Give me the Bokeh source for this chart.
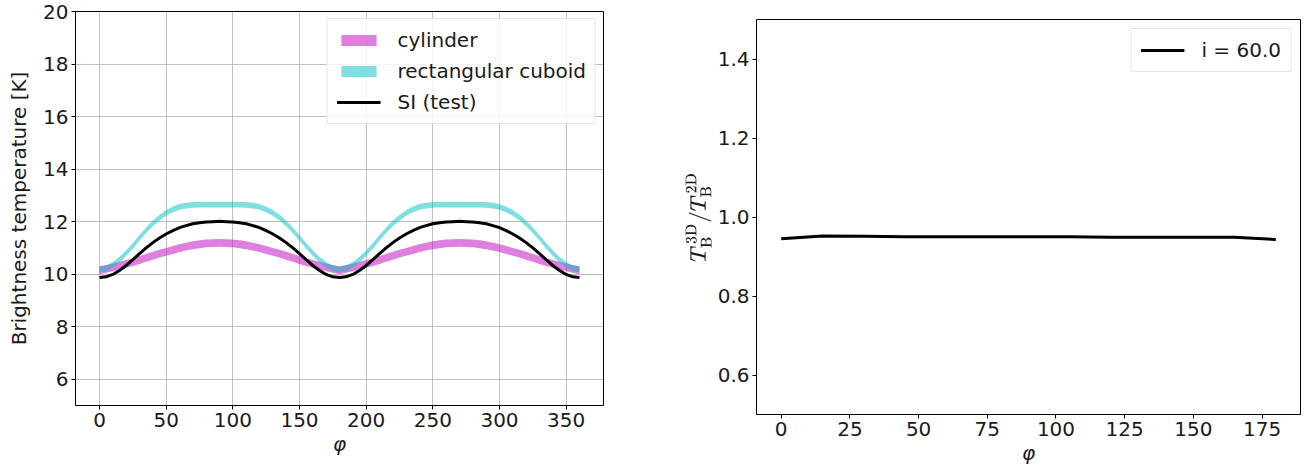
from bokeh.plotting import figure
from bokeh.layouts import row, column
from bokeh.models import Range1d, FixedTicker, Legend, LegendItem, Spacer, PrintfTickFormatter
from bokeh.embed import file_html
from bokeh.resources import INLINE

# ---------------- data ----------------
phi = list(range(0, 365, 5))

cyl_lo = [10.00, 10.05, 10.11, 10.17, 10.24, 10.31, 10.39, 10.47, 10.55, 10.63, 10.70, 10.77, 10.84, 10.90, 10.95, 10.99, 11.02, 11.03, 11.04,
          11.03, 11.02, 10.99, 10.95, 10.90, 10.84, 10.77, 10.70, 10.63, 10.55, 10.47, 10.39, 10.31, 10.24, 10.17, 10.11, 10.05, 10.00,
          10.05, 10.11, 10.17, 10.24, 10.31, 10.39, 10.47, 10.55, 10.63, 10.70, 10.77, 10.84, 10.90, 10.95, 10.99, 11.02, 11.03, 11.04,
          11.03, 11.02, 10.99, 10.95, 10.90, 10.84, 10.77, 10.70, 10.63, 10.55, 10.47, 10.39, 10.31, 10.24, 10.17, 10.11, 10.05, 10.00]
cyl_hi = [10.30, 10.35, 10.41, 10.47, 10.54, 10.61, 10.69, 10.77, 10.85, 10.93, 11.00, 11.07, 11.14, 11.20, 11.25, 11.29, 11.32, 11.33, 11.34,
          11.33, 11.32, 11.29, 11.25, 11.20, 11.14, 11.07, 11.00, 10.93, 10.85, 10.77, 10.69, 10.61, 10.54, 10.47, 10.41, 10.35, 10.30,
          10.35, 10.41, 10.47, 10.54, 10.61, 10.69, 10.77, 10.85, 10.93, 11.00, 11.07, 11.14, 11.20, 11.25, 11.29, 11.32, 11.33, 11.34,
          11.33, 11.32, 11.29, 11.25, 11.20, 11.14, 11.07, 11.00, 10.93, 10.85, 10.77, 10.69, 10.61, 10.54, 10.47, 10.41, 10.35, 10.30]
cub_lo = [10.06, 10.11, 10.24, 10.44, 10.69, 10.97, 11.27, 11.56, 11.82, 12.04, 12.22, 12.36, 12.45, 12.50, 12.53, 12.54, 12.54, 12.54, 12.54,
          12.54, 12.54, 12.54, 12.53, 12.50, 12.45, 12.36, 12.22, 12.04, 11.82, 11.56, 11.27, 10.97, 10.69, 10.44, 10.24, 10.11, 10.06,
          10.11, 10.24, 10.44, 10.69, 10.97, 11.27, 11.56, 11.82, 12.04, 12.22, 12.36, 12.45, 12.50, 12.53, 12.54, 12.54, 12.54, 12.54,
          12.54, 12.54, 12.54, 12.53, 12.50, 12.45, 12.36, 12.22, 12.04, 11.82, 11.56, 11.27, 10.97, 10.69, 10.44, 10.24, 10.11, 10.06]
cub_hi = [10.28, 10.33, 10.46, 10.66, 10.91, 11.19, 11.49, 11.78, 12.04, 12.26, 12.44, 12.58, 12.67, 12.72, 12.75, 12.76, 12.76, 12.76, 12.76,
          12.76, 12.76, 12.76, 12.75, 12.72, 12.67, 12.58, 12.44, 12.26, 12.04, 11.78, 11.49, 11.19, 10.91, 10.66, 10.46, 10.33, 10.28,
          10.33, 10.46, 10.66, 10.91, 11.19, 11.49, 11.78, 12.04, 12.26, 12.44, 12.58, 12.67, 12.72, 12.75, 12.76, 12.76, 12.76, 12.76,
          12.76, 12.76, 12.76, 12.75, 12.72, 12.67, 12.58, 12.44, 12.26, 12.04, 11.78, 11.49, 11.19, 10.91, 10.66, 10.46, 10.33, 10.28]
si_test = [9.87, 9.90, 9.99, 10.14, 10.33, 10.55, 10.78, 11.00, 11.20, 11.38, 11.53, 11.66, 11.77, 11.85, 11.92, 11.96, 11.99, 12.00, 12.01,
           12.00, 11.99, 11.96, 11.92, 11.85, 11.77, 11.66, 11.53, 11.38, 11.20, 11.00, 10.78, 10.55, 10.33, 10.14, 9.99, 9.90, 9.87,
           9.90, 9.99, 10.14, 10.33, 10.55, 10.78, 11.00, 11.20, 11.38, 11.53, 11.66, 11.77, 11.85, 11.92, 11.96, 11.99, 12.00, 12.01,
           12.00, 11.99, 11.96, 11.92, 11.85, 11.77, 11.66, 11.53, 11.38, 11.20, 11.00, 10.78, 10.55, 10.33, 10.14, 9.99, 9.90, 9.87]

phi2 = [0, 15, 30, 45, 60, 75, 90, 105, 120, 135, 150, 165, 180]
ratio = [0.945, 0.952, 0.951, 0.950, 0.950, 0.950, 0.950, 0.950, 0.949, 0.949, 0.949, 0.949, 0.943]

left_xticks = [0, 50, 100, 150, 200, 250, 300, 350]
left_yticks = [6, 8, 10, 12, 14, 16, 18, 20]
right_xticks = [0, 25, 50, 75, 100, 125, 150, 175]
right_yticks = [0.6, 0.8, 1.0, 1.2, 1.4]

FONT = "DejaVu Sans"
FS = "20px"
TXT = "#1a1a1a"


def style(p):
    p.outline_line_color = "black"
    p.outline_line_width = 1
    p.background_fill_color = "white"
    p.border_fill_color = "white"
    for ax in p.axis:
        ax.axis_line_color = None
        ax.major_tick_line_color = "black"
        ax.major_tick_in = 0
        ax.major_tick_out = 4
        ax.minor_tick_line_color = None
        ax.major_label_text_font = FONT
        ax.major_label_text_font_size = FS
        ax.major_label_text_color = TXT
        ax.major_label_standoff = 3
        ax.axis_label_text_font = FONT
        ax.axis_label_text_font_size = FS
        ax.axis_label_text_color = TXT


def style_legend(leg, margin):
    leg.label_text_font = FONT
    leg.label_text_font_size = FS
    leg.label_text_color = TXT
    leg.glyph_width = 44
    leg.glyph_height = 14
    leg.label_height = 20
    leg.spacing = 7
    leg.padding = 9
    leg.margin = margin
    leg.label_standoff = 17
    leg.border_line_color = "#cccccc"
    leg.border_line_width = 1
    leg.background_fill_alpha = 0.8


# ---------------- left panel ----------------
p1 = figure(frame_width=528, frame_height=394, output_backend="svg", toolbar_location=None,
            x_range=Range1d(-18, 378), y_range=Range1d(5, 20),
            min_border_left=75, min_border_right=77, min_border_top=11, min_border_bottom=60)
style(p1)
p1.xaxis.ticker = FixedTicker(ticks=left_xticks)
p1.yaxis.ticker = FixedTicker(ticks=left_yticks)
p1.xgrid.ticker = FixedTicker(ticks=left_xticks)
p1.ygrid.ticker = FixedTicker(ticks=left_yticks)
p1.grid.grid_line_color = "#b0b0b0"
p1.grid.grid_line_width = 0.8
p1.xaxis.axis_label = "φ"
p1.xaxis.axis_label_text_font_style = "italic"
p1.xaxis.axis_label_standoff = 2
p1.yaxis.axis_label = "Brightness temperature [K]"
p1.yaxis.axis_label_text_font_style = "normal"
p1.yaxis.axis_label_standoff = 9

r_cyl = p1.varea(x=phi, y1=cyl_lo, y2=cyl_hi, fill_color="#bf00bf", fill_alpha=0.5)
r_cub = p1.varea(x=phi, y1=cub_lo, y2=cub_hi, fill_color="#00bfbf", fill_alpha=0.5)
r_si = p1.line(x=phi, y=si_test, line_color="black", line_width=3)

leg1 = Legend(items=[LegendItem(label="cylinder", renderers=[r_cyl]),
                     LegendItem(label="rectangular cuboid", renderers=[r_cub]),
                     LegendItem(label="SI (test)", renderers=[r_si])],
              location="top_right")
style_legend(leg1, 7)
p1.add_layout(leg1)

# ---------------- right panel ----------------
p2 = figure(frame_width=544, frame_height=395, output_backend="svg", toolbar_location=None,
            x_range=Range1d(-9, 189), y_range=Range1d(0.5, 1.5),
            min_border_left=76, min_border_right=4, min_border_top=11, min_border_bottom=52)
style(p2)
p2.grid.grid_line_color = None
p2.xaxis.ticker = FixedTicker(ticks=right_xticks)
p2.yaxis.ticker = FixedTicker(ticks=right_yticks)
p2.yaxis.formatter = PrintfTickFormatter(format="%.1f")
p2.xaxis.axis_label = "φ"
p2.xaxis.axis_label_text_font_style = "italic"
p2.xaxis.axis_label_standoff = 2
p2.yaxis.axis_label = r"$$T_\mathrm{B}^\mathrm{3D}/T_\mathrm{B}^\mathrm{2D}$$"
p2.yaxis.axis_label_text_font_size = "17px"
p2.yaxis.axis_label_standoff = 3

r_ratio = p2.line(x=phi2, y=ratio, line_color="black", line_width=3)
leg2 = Legend(items=[LegendItem(label="i = 60.0", renderers=[r_ratio])], location="top_right")
style_legend(leg2, 9)
p2.add_layout(leg2)

layout = row(p1, column(Spacer(height=8, width=1), p2))
open("out.html", "w").write(file_html(layout, INLINE))
